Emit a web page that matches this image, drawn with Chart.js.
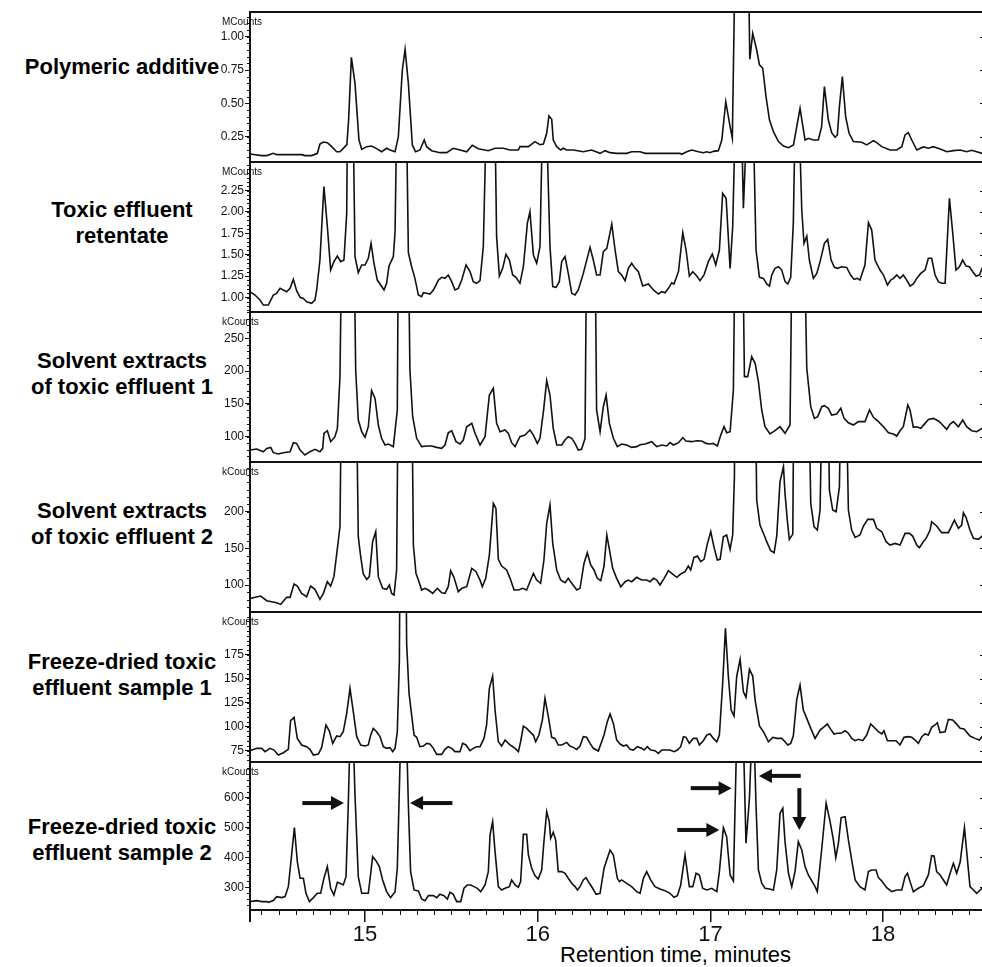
<!DOCTYPE html>
<html lang="en">
<head>
<meta charset="utf-8">
<title>Chromatograms</title>
<script src="https://cdn.jsdelivr.net/npm/chart.js@4.4.1/dist/chart.umd.min.js"></script>
<style>
  html, body { margin: 0; padding: 0; background: #fff; overflow: hidden; }
  body { position: relative; width: 982px; height: 967px; font-family: "Liberation Sans", Arial, sans-serif; color: #000; }
  .panel { position: absolute; left: 190px; width: 795px; }
  .name { position: absolute; left: 0; width: 244px; text-align: center; font-weight: bold; font-size: 22px; line-height: 26px; white-space: nowrap; }
  #xTitle { position: absolute; top: 943px; left: 560px; font-size: 22px; line-height: 24px; white-space: nowrap; }
</style>
</head>
<body>
<div id="xTitle">Retention time, minutes</div>
<script>
const INK = '#111';
const FONT = '"Liberation Sans", Arial, sans-serif';
const X_MIN = 14.334, X_MAX = 18.59;
const PAD = 6;

const timeTicks = [15, 16, 17, 18];

// Polymeric additive (MCounts)
const additiveTime = [
  14.28, 14.334, 14.402, 14.431, 14.469, 14.488, 14.633, 14.652, 14.691, 14.724,
  14.739, 14.759, 14.782, 14.807, 14.836, 14.855, 14.884, 14.895, 14.905, 14.921,
  14.942, 14.965, 14.981, 15.010, 15.038, 15.067, 15.096, 15.125, 15.145, 15.174,
  15.193, 15.216, 15.232, 15.251, 15.274, 15.293, 15.318, 15.343, 15.357, 15.386,
  15.434, 15.473, 15.511, 15.550, 15.589, 15.621, 15.656, 15.714, 15.753, 15.801,
  15.840, 15.888, 15.897, 15.946, 15.984, 16.013, 16.033, 16.052, 16.065, 16.081,
  16.090, 16.110, 16.133, 16.148, 16.168, 16.206, 16.264, 16.312, 16.361, 16.390,
  16.419, 16.457, 16.515, 16.544, 16.593, 16.622, 16.824, 16.834, 16.863, 16.892,
  16.930, 16.959, 16.979, 16.998, 17.017, 17.046, 17.066, 17.089, 17.114, 17.127,
  17.143, 17.220, 17.228, 17.245, 17.268, 17.284, 17.303, 17.322, 17.342, 17.365,
  17.394, 17.423, 17.452, 17.481, 17.519, 17.548, 17.567, 17.596, 17.625, 17.644,
  17.660, 17.683, 17.702, 17.722, 17.735, 17.747, 17.764, 17.783, 17.803, 17.828,
  17.876, 17.905, 17.944, 17.963, 17.992, 18.040, 18.079, 18.108, 18.127, 18.146,
  18.166, 18.195, 18.233, 18.262, 18.291, 18.330, 18.369, 18.407, 18.446, 18.484,
  18.513, 18.542, 18.573, 18.60
];
const additiveCounts = [
  0.12, 0.12, 0.108, 0.108, 0.125, 0.115, 0.115, 0.108, 0.108, 0.125,
  0.195, 0.21, 0.205, 0.175, 0.137, 0.137, 0.175, 0.19, 0.375, 0.845,
  0.65, 0.225, 0.155, 0.175, 0.18, 0.16, 0.137, 0.163, 0.15, 0.137,
  0.25, 0.75, 0.905, 0.65, 0.188, 0.137, 0.15, 0.225, 0.175, 0.145,
  0.13, 0.13, 0.163, 0.15, 0.137, 0.185, 0.16, 0.145, 0.163, 0.163,
  0.15, 0.15, 0.175, 0.175, 0.213, 0.19, 0.195, 0.275, 0.405, 0.38,
  0.225, 0.175, 0.15, 0.163, 0.15, 0.15, 0.137, 0.15, 0.125, 0.145,
  0.13, 0.125, 0.125, 0.137, 0.137, 0.125, 0.125, 0.118, 0.137, 0.15,
  0.137, 0.13, 0.137, 0.13, 0.14, 0.145, 0.225, 0.512, 0.325, 0.238,
  1.6, 1.6, 0.83, 1.025, 0.90, 0.788, 0.763, 0.55, 0.375, 0.287,
  0.213, 0.18, 0.167, 0.188, 0.463, 0.225, 0.238, 0.225, 0.225, 0.325,
  0.625, 0.375, 0.28, 0.245, 0.263, 0.475, 0.70, 0.40, 0.275, 0.213,
  0.208, 0.188, 0.22, 0.205, 0.175, 0.15, 0.15, 0.175, 0.263, 0.28,
  0.225, 0.15, 0.173, 0.163, 0.175, 0.158, 0.137, 0.145, 0.15, 0.137,
  0.148, 0.137, 0.125, 0.125
];
const additiveTicks = [0.25, 0.5, 0.75, 1.0];

// Toxic effluent retentate (MCounts)
const retentateTime = [
  14.28, 14.334, 14.363, 14.392, 14.411, 14.440, 14.469, 14.488, 14.508, 14.546,
  14.566, 14.585, 14.604, 14.624, 14.643, 14.662, 14.691, 14.710, 14.720, 14.739,
  14.762, 14.782, 14.801, 14.820, 14.840, 14.859, 14.878, 14.894, 14.898, 14.932,
  14.942, 14.961, 14.981, 15.000, 15.019, 15.035, 15.052, 15.071, 15.091, 15.110,
  15.125, 15.139, 15.164, 15.174, 15.183, 15.241, 15.251, 15.270, 15.289, 15.309,
  15.328, 15.338, 15.357, 15.376, 15.396, 15.425, 15.444, 15.463, 15.482, 15.502,
  15.521, 15.540, 15.560, 15.585, 15.608, 15.627, 15.646, 15.666, 15.685, 15.701,
  15.753, 15.762, 15.778, 15.797, 15.816, 15.836, 15.855, 15.874, 15.897, 15.917,
  15.940, 15.955, 15.975, 15.994, 16.013, 16.027, 16.052, 16.071, 16.087, 16.106,
  16.125, 16.139, 16.158, 16.177, 16.197, 16.216, 16.235, 16.264, 16.303, 16.322,
  16.341, 16.361, 16.380, 16.400, 16.429, 16.448, 16.467, 16.486, 16.506, 16.525,
  16.544, 16.564, 16.583, 16.608, 16.641, 16.670, 16.699, 16.718, 16.737, 16.757,
  16.776, 16.789, 16.815, 16.840, 16.859, 16.878, 16.898, 16.921, 16.940, 16.963,
  16.988, 17.011, 17.031, 17.052, 17.071, 17.091, 17.114, 17.129, 17.143, 17.181,
  17.191, 17.210, 17.249, 17.264, 17.284, 17.307, 17.326, 17.342, 17.355, 17.374,
  17.394, 17.413, 17.432, 17.448, 17.465, 17.480, 17.490, 17.515, 17.529, 17.542,
  17.558, 17.573, 17.596, 17.616, 17.635, 17.660, 17.679, 17.699, 17.718, 17.737,
  17.760, 17.789, 17.812, 17.832, 17.851, 17.866, 17.895, 17.915, 17.934, 17.953,
  17.982, 18.002, 18.025, 18.044, 18.060, 18.079, 18.098, 18.117, 18.137, 18.156,
  18.175, 18.195, 18.218, 18.243, 18.262, 18.281, 18.301, 18.320, 18.339, 18.359,
  18.384, 18.403, 18.422, 18.442, 18.461, 18.480, 18.500, 18.519, 18.538, 18.558,
  18.573, 18.60
];
const retentateCounts = [
  1.068, 1.068, 1.029, 0.971, 0.912, 0.912, 1.029, 1.049, 1.107, 1.068,
  1.107, 1.212, 1.08, 1.002, 0.99, 0.951, 0.932, 0.971, 1.088, 1.438,
  2.295, 1.827, 1.321, 1.419, 1.485, 1.419, 1.438, 1.983, 3.0, 3.0,
  1.477, 1.29, 1.38, 1.38, 1.458, 1.633, 1.40, 1.204, 1.146, 1.088,
  1.166, 1.368, 1.477, 1.769, 3.0, 3.0, 1.524, 1.36, 1.224, 1.029,
  1.01, 1.056, 1.049, 1.041, 1.088, 1.204, 1.236, 1.224, 1.263, 1.185,
  1.088, 1.107, 1.204, 1.38, 1.302, 1.185, 1.166, 1.197, 1.594, 3.0,
  3.0, 1.711, 1.251, 1.341, 1.504, 1.438, 1.263, 1.236, 1.166, 1.36,
  1.866, 2.003, 1.497, 1.40, 1.594, 3.0, 3.0, 1.594, 1.127, 1.119,
  1.185, 1.419, 1.477, 1.282, 1.049, 1.029, 1.088, 1.282, 1.586, 1.438,
  1.263, 1.263, 1.535, 1.574, 1.858, 1.555, 1.302, 1.263, 1.197, 1.341,
  1.40, 1.341, 1.302, 1.134, 1.158, 1.088, 1.041, 1.068, 1.056, 1.107,
  1.173, 1.158, 1.302, 1.757, 1.555, 1.251, 1.302, 1.251, 1.197, 1.263,
  1.419, 1.508, 1.38, 1.555, 2.217, 2.158, 1.341, 1.827, 3.0, 3.0,
  2.042, 3.0, 3.0, 1.555, 1.236, 1.224, 1.158, 1.134, 1.263, 1.341,
  1.36, 1.321, 1.188, 1.158, 1.236, 1.866, 3.0, 3.0, 2.022, 1.633,
  1.718, 1.438, 1.224, 1.282, 1.419, 1.633, 1.68, 1.438, 1.352, 1.341,
  1.36, 1.352, 1.263, 1.212, 1.224, 1.204, 1.38, 1.874, 1.788, 1.438,
  1.321, 1.263, 1.146, 1.204, 1.224, 1.263, 1.224, 1.263, 1.204, 1.134,
  1.158, 1.224, 1.282, 1.321, 1.458, 1.458, 1.263, 1.185, 1.166, 1.166,
  2.158, 1.757, 1.321, 1.36, 1.438, 1.368, 1.36, 1.302, 1.251, 1.263,
  1.341, 1.36
];
const retentateTicks = [1.0, 1.25, 1.5, 1.75, 2.0, 2.25];

// Solvent extracts of toxic effluent 1 (kCounts)
const solvent1Time = [
  14.28, 14.334, 14.373, 14.411, 14.431, 14.454, 14.469, 14.498, 14.527, 14.566,
  14.585, 14.604, 14.624, 14.652, 14.681, 14.710, 14.739, 14.755, 14.762, 14.782,
  14.801, 14.826, 14.840, 14.855, 14.865, 14.936, 14.946, 14.961, 14.981, 15.000,
  15.019, 15.038, 15.058, 15.077, 15.096, 15.116, 15.135, 15.164, 15.187, 15.193,
  15.251, 15.260, 15.276, 15.299, 15.328, 15.357, 15.386, 15.415, 15.444, 15.463,
  15.482, 15.502, 15.527, 15.550, 15.569, 15.589, 15.618, 15.637, 15.666, 15.695,
  15.720, 15.743, 15.762, 15.782, 15.811, 15.830, 15.849, 15.869, 15.897, 15.926,
  15.955, 15.975, 15.998, 16.013, 16.033, 16.052, 16.071, 16.090, 16.110, 16.139,
  16.158, 16.177, 16.197, 16.216, 16.235, 16.254, 16.274, 16.283, 16.332, 16.341,
  16.361, 16.380, 16.396, 16.415, 16.438, 16.461, 16.486, 16.515, 16.544, 16.573,
  16.593, 16.622, 16.660, 16.689, 16.718, 16.747, 16.766, 16.786, 16.815, 16.840,
  16.859, 16.892, 16.921, 16.950, 16.975, 16.998, 17.017, 17.040, 17.060, 17.079,
  17.094, 17.114, 17.133, 17.143, 17.187, 17.197, 17.216, 17.239, 17.259, 17.278,
  17.297, 17.316, 17.345, 17.374, 17.403, 17.432, 17.461, 17.473, 17.544, 17.558,
  17.581, 17.602, 17.621, 17.645, 17.660, 17.683, 17.702, 17.731, 17.755, 17.774,
  17.799, 17.828, 17.857, 17.895, 17.921, 17.944, 17.973, 18.002, 18.031, 18.060,
  18.079, 18.098, 18.117, 18.143, 18.156, 18.175, 18.195, 18.218, 18.243, 18.262,
  18.291, 18.320, 18.339, 18.368, 18.388, 18.407, 18.436, 18.461, 18.484, 18.513,
  18.542, 18.573, 18.60
];
const solvent1Counts = [
  79.7, 79.7, 81.2, 77.1, 82.2, 83.7, 75.6, 73.6, 75.6, 77.1,
  90.9, 89.8, 79.7, 72.1, 77.1, 80.7, 77.1, 82.2, 105.1, 109.1,
  92.4, 100, 112.7, 191.5, 400, 400, 201.6, 125.4, 107.6, 99,
  115.2, 170.1, 158.4, 117.8, 97.5, 87.3, 88.8, 84.8, 140.7, 400,
  400, 201.6, 130.5, 97.5, 84.8, 85.8, 85.8, 83.7, 82.2, 87.3,
  106.1, 109.1, 92.4, 88.8, 94.9, 115.2, 120.3, 105.1, 87.3, 100,
  163.5, 173.7, 120.3, 107.6, 110.2, 105.1, 90.9, 84.8, 100, 102.5,
  110.2, 102.5, 89.8, 97.5, 138.1, 185.4, 163.5, 112.7, 87.3, 87.3,
  94.9, 100, 97.5, 89.8, 79.7, 80.7, 97.5, 400, 400, 140.7,
  107.6, 145.7, 163.5, 120.3, 97.5, 84.8, 88.8, 87.3, 83.7, 84.8,
  87.8, 88.8, 92.4, 84.8, 87.3, 85.8, 90.9, 87.3, 90.9, 98.5,
  93.4, 92.4, 93.9, 93.4, 89.8, 88.8, 89.8, 85.8, 102.5, 115.2,
  106.1, 107.6, 171.1, 400, 400, 191.5, 191.5, 222, 211.8, 183.8,
  140.7, 115.2, 104.1, 109.1, 115.2, 105.1, 117.8, 400, 400, 204.2,
  145.7, 127.9, 130.5, 145.7, 147.3, 143.2, 133, 134.6, 143.2, 127.9,
  121.3, 117.8, 122.9, 122.9, 140.7, 129.5, 122.9, 115.2, 106.1, 104.1,
  101, 109.1, 115.2, 148.3, 140.7, 114.2, 115.2, 112.7, 120.3, 126.4,
  127.9, 123.9, 119.3, 111.2, 119.3, 122.9, 115.2, 125.4, 115.2, 109.1,
  107.6, 112.7, 112.7
];
const solvent1Ticks = [100, 150, 200, 250];

// Solvent extracts of toxic effluent 2 (kCounts)
const solvent2Time = [
  14.28, 14.334, 14.363, 14.396, 14.431, 14.459, 14.488, 14.512, 14.546, 14.566,
  14.589, 14.608, 14.633, 14.662, 14.685, 14.710, 14.739, 14.759, 14.782, 14.801,
  14.820, 14.840, 14.855, 14.865, 14.948, 14.961, 14.975, 14.990, 15.010, 15.025,
  15.044, 15.062, 15.077, 15.102, 15.125, 15.141, 15.154, 15.168, 15.183, 15.193,
  15.270, 15.280, 15.295, 15.309, 15.328, 15.347, 15.367, 15.392, 15.419, 15.444,
  15.463, 15.482, 15.496, 15.515, 15.540, 15.560, 15.589, 15.618, 15.643, 15.666,
  15.679, 15.699, 15.720, 15.743, 15.758, 15.772, 15.791, 15.820, 15.840, 15.863,
  15.888, 15.913, 15.936, 15.955, 15.975, 15.994, 16.017, 16.036, 16.052, 16.071,
  16.087, 16.110, 16.133, 16.158, 16.177, 16.197, 16.226, 16.245, 16.268, 16.287,
  16.307, 16.326, 16.345, 16.365, 16.384, 16.400, 16.419, 16.434, 16.457, 16.481,
  16.506, 16.525, 16.544, 16.573, 16.602, 16.631, 16.651, 16.670, 16.689, 16.708,
  16.732, 16.757, 16.776, 16.805, 16.828, 16.853, 16.872, 16.886, 16.905, 16.925,
  16.944, 16.963, 16.983, 17.002, 17.021, 17.040, 17.056, 17.075, 17.094, 17.114,
  17.129, 17.139, 17.143, 17.259, 17.268, 17.287, 17.311, 17.326, 17.349, 17.369,
  17.384, 17.403, 17.423, 17.432, 17.446, 17.457, 17.477, 17.484, 17.567, 17.581,
  17.600, 17.619, 17.635, 17.650, 17.679, 17.689, 17.708, 17.728, 17.747, 17.758,
  17.783, 17.799, 17.818, 17.838, 17.866, 17.886, 17.911, 17.944, 17.963, 17.992,
  18.017, 18.040, 18.069, 18.098, 18.127, 18.152, 18.171, 18.195, 18.210, 18.233,
  18.249, 18.272, 18.281, 18.310, 18.339, 18.378, 18.413, 18.436, 18.455, 18.465,
  18.480, 18.503, 18.523, 18.552, 18.573, 18.60
];
const solvent2Counts = [
  81.8, 81.8, 83.2, 85, 78.6, 77.3, 75.9, 73.6, 83.2, 83.2,
  101.4, 98.6, 88.6, 84.1, 98.6, 94.1, 80.5, 88.6, 104.5, 98.6,
  111.4, 150, 179.5, 400, 400, 165.9, 138.6, 115, 107.7, 111.4,
  159.1, 172.7, 111.4, 95.5, 94.1, 100, 88.6, 86.4, 120.5, 400,
  400, 154.5, 115.9, 106.8, 93.2, 95.5, 93.2, 88.6, 95.5, 89.5,
  88.6, 97.7, 119.5, 110.5, 90.9, 95.5, 97.7, 122.7, 118.2, 106.8,
  97.7, 109.1, 140.9, 211.4, 204.5, 135, 125.9, 120.5, 109.1, 93.2,
  93.2, 95.5, 93.2, 104.5, 115.9, 106.8, 102.3, 134.1, 184.1, 209.1,
  156.8, 120.5, 106.8, 103.2, 109.1, 102.3, 93.2, 95.5, 129.5, 144.1,
  127.3, 120.5, 109.1, 105.9, 125.9, 168.2, 143.2, 122.7, 109.1, 97.7,
  104.5, 106.8, 104.5, 110.5, 106.8, 106.8, 104.5, 109.1, 106.8, 100,
  109.1, 119.5, 115.9, 110.5, 115, 118.2, 125.9, 120.5, 137.7, 139.5,
  131.8, 135, 156.8, 172.7, 151.4, 134.1, 135, 165.9, 168.2, 148.6,
  168.2, 247.7, 400, 400, 215.9, 181.8, 168.2, 159.1, 146.8, 144.1,
  166.8, 240.9, 261.4, 225, 186.4, 162.3, 169.5, 400, 400, 211.4,
  179.5, 175, 202.3, 400, 400, 229.5, 202.3, 200, 234.1, 400,
  400, 202.3, 175, 165, 168.2, 180.5, 189.5, 189.5, 177.3, 172.7,
  159.1, 154.5, 156.8, 154.5, 170.5, 170.5, 166.8, 154.5, 150.9, 159.1,
  163.6, 175, 186.4, 180.5, 171.4, 171.4, 188.6, 177.3, 181.8, 198.6,
  192.3, 175, 163.6, 162.3, 166.8, 166.8
];
const solvent2Ticks = [100, 150, 200];

// Freeze-dried toxic effluent sample 1 (kCounts)
const freeze1Time = [
  14.28, 14.334, 14.373, 14.402, 14.421, 14.450, 14.473, 14.498, 14.527, 14.556,
  14.569, 14.589, 14.608, 14.633, 14.662, 14.681, 14.701, 14.730, 14.749, 14.774,
  14.793, 14.813, 14.836, 14.855, 14.874, 14.894, 14.913, 14.932, 14.952, 14.975,
  15.000, 15.019, 15.033, 15.048, 15.067, 15.087, 15.106, 15.125, 15.145, 15.160,
  15.174, 15.187, 15.199, 15.206, 15.232, 15.241, 15.255, 15.270, 15.284, 15.299,
  15.318, 15.338, 15.357, 15.376, 15.396, 15.415, 15.444, 15.463, 15.482, 15.502,
  15.521, 15.550, 15.565, 15.585, 15.608, 15.627, 15.646, 15.666, 15.689, 15.704,
  15.720, 15.739, 15.753, 15.772, 15.791, 15.811, 15.830, 15.849, 15.869, 15.888,
  15.901, 15.917, 15.936, 15.959, 15.975, 15.988, 16.007, 16.027, 16.042, 16.061,
  16.081, 16.100, 16.119, 16.139, 16.168, 16.187, 16.206, 16.226, 16.245, 16.264,
  16.283, 16.303, 16.322, 16.351, 16.384, 16.403, 16.419, 16.438, 16.457, 16.477,
  16.496, 16.515, 16.535, 16.554, 16.577, 16.602, 16.616, 16.635, 16.654, 16.679,
  16.699, 16.718, 16.747, 16.766, 16.789, 16.809, 16.828, 16.844, 16.859, 16.878,
  16.901, 16.921, 16.936, 16.959, 16.979, 16.998, 17.017, 17.037, 17.052, 17.071,
  17.087, 17.104, 17.120, 17.137, 17.152, 17.172, 17.191, 17.206, 17.226, 17.245,
  17.259, 17.284, 17.307, 17.336, 17.361, 17.384, 17.413, 17.432, 17.448, 17.465,
  17.480, 17.500, 17.519, 17.538, 17.558, 17.581, 17.606, 17.635, 17.654, 17.677,
  17.697, 17.716, 17.735, 17.755, 17.780, 17.799, 17.818, 17.838, 17.857, 17.882,
  17.905, 17.928, 17.948, 17.973, 17.992, 18.005, 18.025, 18.050, 18.075, 18.098,
  18.121, 18.146, 18.166, 18.185, 18.204, 18.224, 18.243, 18.262, 18.281, 18.301,
  18.314, 18.330, 18.359, 18.378, 18.403, 18.422, 18.446, 18.469, 18.503, 18.532,
  18.557, 18.573, 18.60
];
const freeze1Counts = [
  74.8, 74.8, 77.3, 77.3, 73.8, 77.3, 75.5, 70.3, 72.7, 76.2,
  106.2, 109.7, 87.7, 80.8, 79, 76.2, 70.3, 71.3, 78.3, 101.7,
  95.7, 82.5, 90.2, 89.5, 94.7, 113.9, 140, 115.6, 89.5, 80.8,
  79.7, 80.8, 91.2, 98.2, 94.7, 89.5, 79, 77.3, 78, 73.8,
  77.3, 94.7, 169.7, 400, 400, 187.1, 134.8, 112.1, 91.2, 88.8,
  79, 79.7, 82.5, 81.8, 77.3, 71, 71, 76.2, 79, 77.3,
  73.8, 73.8, 82.5, 80.8, 74.8, 77.3, 79, 79, 87.7, 101.7,
  140, 152.9, 117.4, 84.2, 79.7, 86, 82.5, 79.7, 77.3, 73.8,
  84.2, 100.6, 98.2, 93.7, 91.2, 84.2, 91.2, 106.9, 129.6, 111.1,
  88.8, 87.7, 80.8, 80.8, 83.5, 79.7, 78.3, 76.2, 79.7, 89.5,
  88.8, 82.5, 77.3, 74.5, 91.2, 105.2, 113.2, 103.4, 86, 81.8,
  79.7, 80.8, 76.2, 75.5, 79, 77.3, 75.5, 79, 75.5, 74.8,
  72, 75.5, 75.5, 75.5, 73.8, 75.5, 79, 89.5, 88.8, 82.5,
  87.7, 87.7, 80.8, 85.3, 91.2, 92.3, 87.7, 84.2, 91.2, 145.3,
  202.8, 152.2, 117.4, 111.1, 152.2, 170.4, 136.5, 130.6, 160, 152.9,
  127.8, 100.6, 94.7, 84.2, 88.8, 87.7, 87.7, 84.2, 80.8, 82.5,
  90.2, 128.5, 143.5, 117.4, 108.6, 98.2, 87.7, 96.4, 99.2, 102.7,
  97.1, 92.3, 93, 93, 95.7, 93, 87.7, 85.3, 86.7, 85.3,
  91.2, 102.7, 99.2, 94.7, 92.3, 95.7, 85.3, 85.3, 85.3, 80.8,
  88.8, 89.5, 88.8, 86, 82.5, 89.5, 92.3, 91.2, 99.2, 101.7,
  104.1, 93.7, 94.7, 107.6, 107, 103.4, 98.2, 97.5, 90.2, 87.7,
  86, 89.5, 89.5
];
const freeze1Ticks = [75, 100, 125, 150, 175];

// Freeze-dried toxic effluent sample 2 (kCounts)
const freeze2Time = [
  14.28, 14.334, 14.373, 14.402, 14.431, 14.440, 14.469, 14.488, 14.517, 14.537,
  14.556, 14.575, 14.591, 14.608, 14.624, 14.643, 14.658, 14.678, 14.701, 14.724,
  14.743, 14.762, 14.782, 14.801, 14.820, 14.840, 14.855, 14.874, 14.890, 14.903,
  14.913, 14.932, 14.942, 14.961, 14.981, 15.000, 15.019, 15.033, 15.044, 15.064,
  15.083, 15.102, 15.125, 15.148, 15.174, 15.187, 15.199, 15.206, 15.241, 15.251,
  15.264, 15.284, 15.309, 15.328, 15.347, 15.367, 15.396, 15.415, 15.434, 15.457,
  15.477, 15.492, 15.511, 15.531, 15.554, 15.573, 15.593, 15.612, 15.631, 15.650,
  15.670, 15.695, 15.714, 15.724, 15.739, 15.753, 15.772, 15.791, 15.811, 15.836,
  15.849, 15.869, 15.888, 15.901, 15.917, 15.936, 15.946, 15.965, 15.984, 16.003,
  16.023, 16.036, 16.052, 16.067, 16.075, 16.090, 16.104, 16.119, 16.139, 16.158,
  16.177, 16.197, 16.216, 16.230, 16.245, 16.264, 16.280, 16.299, 16.318, 16.338,
  16.361, 16.384, 16.403, 16.419, 16.438, 16.461, 16.473, 16.486, 16.515, 16.544,
  16.573, 16.593, 16.612, 16.631, 16.654, 16.679, 16.708, 16.737, 16.766, 16.789,
  16.809, 16.828, 16.853, 16.878, 16.898, 16.917, 16.936, 16.955, 16.979, 17.008,
  17.037, 17.052, 17.075, 17.094, 17.114, 17.133, 17.152, 17.191, 17.206, 17.226,
  17.239, 17.253, 17.264, 17.278, 17.297, 17.316, 17.342, 17.365, 17.384, 17.403,
  17.419, 17.432, 17.452, 17.471, 17.490, 17.509, 17.529, 17.548, 17.567, 17.587,
  17.606, 17.619, 17.645, 17.670, 17.693, 17.712, 17.726, 17.741, 17.757, 17.780,
  17.799, 17.818, 17.838, 17.866, 17.895, 17.915, 17.934, 17.959, 17.973, 17.992,
  18.021, 18.050, 18.079, 18.108, 18.127, 18.141, 18.156, 18.175, 18.204, 18.233,
  18.262, 18.281, 18.295, 18.310, 18.330, 18.349, 18.368, 18.388, 18.407, 18.426,
  18.446, 18.471, 18.484, 18.503, 18.523, 18.542, 18.573, 18.60
];
const freeze2Counts = [
  252, 252, 255.4, 252, 252, 249.8, 255.4, 268.8, 265.4, 268.8,
  302.2, 408.3, 499.8, 385.9, 330.1, 330.1, 279.9, 252, 265.4, 279.9,
  279.9, 330.1, 369.2, 296.7, 274.3, 316.7, 313.4, 307.8, 335.7, 575.7,
  800, 800, 609.2, 335.7, 279.9, 279.9, 279.9, 346.9, 402.7, 388.2,
  369.2, 324.6, 285.5, 265.4, 285.5, 363.6, 631.5, 800, 800, 575.7,
  352.5, 291.1, 287.7, 260.9, 255.4, 272.1, 272.1, 265.4, 276.6, 272.1,
  260.9, 283.3, 276.6, 252, 252, 296.7, 307.8, 307.8, 302.2, 296.7,
  285.5, 307.8, 352.5, 475.2, 519.9, 419.4, 302.2, 291.1, 296.7, 302.2,
  324.6, 307.8, 300, 319, 477.5, 477.5, 408.3, 363.6, 339.1, 327.9,
  358, 452.9, 553.3, 519.9, 464.1, 484.2, 458.5, 352.5, 352.5, 346.9,
  330.1, 313.4, 302.2, 291.1, 302.2, 324.6, 332.4, 313.4, 296.7, 276.6,
  279.9, 363.6, 397.1, 425, 408.3, 330.1, 319, 324.6, 313.4, 302.2,
  285.5, 279.9, 330.1, 352.5, 324.6, 302.2, 294.4, 288.8, 279.9, 266.5,
  272.1, 307.8, 408.3, 302.2, 302.2, 346.9, 341.3, 296.7, 291.1, 296.7,
  285.5, 352.5, 499.8, 469.6, 341.3, 321.2, 800, 800, 447.3, 598,
  800, 800, 575.7, 358, 313.4, 296.7, 294.4, 291.1, 358, 547.8,
  564.5, 452.9, 346.9, 302.2, 352.5, 452.9, 425, 369.2, 341.3, 321.2,
  302.2, 285.5, 430.6, 581.3, 519.9, 458.5, 399.3, 447.3, 533.3, 536.6,
  458.5, 391.5, 324.6, 302.2, 291.1, 352.5, 358, 358, 332.4, 321.2,
  298.9, 285.5, 291.1, 291.1, 335.7, 346.9, 319, 285.5, 296.7, 305.6,
  341.3, 406, 404.9, 352.5, 341.3, 324.6, 307.8, 346.9, 380.4, 346.9,
  383.7, 499.8, 419.4, 302.2, 291.1, 279.9, 296.7, 296.7
];
const freeze2Ticks = [300, 400, 500, 600];

// arrows marking the peaks of interest in sample 2, [minutes, kCounts]
const arrowTails = [[14.637, 582], [15.506, 582], [16.886, 632], [16.808, 492], [17.523, 673], [17.515, 632]];
const arrowHeads = [[14.878, 582], [15.261, 582], [17.123, 632], [17.052, 492], [17.281, 673], [17.515, 492]];

const panels = [
  { name: ['Polymeric additive'], unit: 'MCounts', time: additiveTime, counts: additiveCounts, ticks: additiveTicks, minor: 0.05, min: 0.06, max: 1.185, digits: 2 },
  { name: ['Toxic effluent', 'retentate'], unit: 'MCounts', time: retentateTime, counts: retentateCounts, ticks: retentateTicks, minor: 0.05, min: 0.831, max: 2.583, digits: 2 },
  { name: ['Solvent extracts', 'of toxic effluent 1'], unit: 'kCounts', time: solvent1Time, counts: solvent1Counts, ticks: solvent1Ticks, minor: 10, min: 61.4, max: 290.1, digits: 0 },
  { name: ['Solvent extracts', 'of toxic effluent 2'], unit: 'kCounts', time: solvent2Time, counts: solvent2Counts, ticks: solvent2Ticks, minor: 10, min: 63.2, max: 267.8, digits: 0 },
  { name: ['Freeze-dried toxic', 'effluent sample 1'], unit: 'kCounts', time: freeze1Time, counts: freeze1Counts, ticks: freeze1Ticks, minor: 5, min: 63, max: 219.9, digits: 0 },
  { name: ['Freeze-dried toxic', 'effluent sample 2'], unit: 'kCounts', time: freeze2Time, counts: freeze2Counts, ticks: freeze2Ticks, minor: 20, min: 224, max: 719.5, digits: 0 }
];

// page position of each plot band and of its bold name
const bands = [
  { top: 12, height: 150, nameTop: 54 },
  { top: 162, height: 150, nameTop: 197 },
  { top: 312, height: 150, nameTop: 348 },
  { top: 462, height: 150, nameTop: 498 },
  { top: 612, height: 150, nameTop: 649 },
  { top: 762, height: 148, nameTop: 814 }
];
const X_AXIS_HEIGHT = 967 - 910;

function drawArrow(ctx, x0, y0, x1, y1) {
  const ang = Math.atan2(y1 - y0, x1 - x0);
  const len = Math.hypot(x1 - x0, y1 - y0);
  const head = 13, half = 7;
  ctx.save();
  ctx.translate(x0, y0);
  ctx.rotate(ang);
  ctx.fillStyle = INK;
  ctx.fillRect(0, -2, len - head + 1, 4);
  ctx.beginPath();
  ctx.moveTo(len, 0);
  ctx.lineTo(len - head, -half);
  ctx.lineTo(len - head, half);
  ctx.closePath();
  ctx.fill();
  ctx.restore();
}

panels.forEach((p, i) => {
  const band = bands[i];
  const last = i === panels.length - 1;

  const name = document.createElement('div');
  name.className = 'name';
  name.style.top = band.nameTop + 'px';
  name.innerHTML = p.name.join('<br>');
  document.body.appendChild(name);

  const box = document.createElement('div');
  box.className = 'panel';
  box.style.top = (band.top - PAD) + 'px';
  box.style.height = (band.height + PAD + (last ? X_AXIS_HEIGHT : 0)) + 'px';
  const canvas = document.createElement('canvas');
  box.appendChild(canvas);
  document.body.appendChild(box);

  const frame = {
    id: 'frame' + i,
    afterDatasetsDraw(chart) {
      const { ctx, chartArea: a, scales } = chart;
      const y = scales.y;
      ctx.save();
      ctx.strokeStyle = INK;
      ctx.lineWidth = 2;
      ctx.beginPath();
      ctx.moveTo(a.left - 1, a.top);
      ctx.lineTo(a.right, a.top);
      ctx.stroke();

      ctx.lineWidth = 1;
      for (let k = Math.ceil(p.min / p.minor); k * p.minor <= p.max; k++) {
        const py = Math.round(y.getPixelForValue(k * p.minor)) + 0.5;
        ctx.beginPath();
        ctx.moveTo(a.left - 3, py);
        ctx.lineTo(a.left, py);
        ctx.stroke();
      }
      p.ticks.forEach(v => {
        const py = Math.round(y.getPixelForValue(v)) + 0.5;
        ctx.beginPath();
        ctx.moveTo(a.right - 5, py);
        ctx.lineTo(a.right, py);
        ctx.stroke();
      });

      ctx.fillStyle = INK;
      ctx.font = '10px ' + FONT;
      ctx.textBaseline = 'middle';
      ctx.fillText(p.unit, a.left - 28, a.top + 10);

      if (last) {
        const x = scales.x;
        for (let k = Math.ceil(X_MIN * 10); k / 10 <= X_MAX; k++) {
          if (k % 10 === 0) continue;
          const px = Math.round(x.getPixelForValue(k / 10)) + 0.5;
          ctx.beginPath();
          ctx.moveTo(px, a.bottom);
          ctx.lineTo(px, a.bottom + 5);
          ctx.stroke();
        }
        ctx.lineWidth = 2;
        ctx.beginPath();
        ctx.moveTo(a.left, a.bottom);
        ctx.lineTo(a.left, a.bottom + 12);
        ctx.stroke();
        arrowTails.forEach((t, k) => {
          const h = arrowHeads[k];
          drawArrow(ctx, x.getPixelForValue(t[0]), y.getPixelForValue(t[1]),
                         x.getPixelForValue(h[0]), y.getPixelForValue(h[1]));
        });
      }
      ctx.restore();
    }
  };

  const xScale = {
    type: 'linear',
    min: X_MIN,
    max: X_MAX,
    display: last
  };
  if (last) {
    Object.assign(xScale, {
      afterBuildTicks: s => { s.ticks = timeTicks.map(v => ({ value: v })); },
      afterFit: s => { s.height = X_AXIS_HEIGHT; s.paddingLeft = 0; s.paddingRight = 0; },
      ticks: { color: INK, font: { family: FONT, size: 22 }, padding: 0, maxRotation: 0, autoSkip: false },
      grid: { drawOnChartArea: false, tickLength: 12, color: INK, lineWidth: 1.5 },
      border: { color: INK, width: 2 }
    });
  }

  new Chart(canvas, {
    type: 'line',
    data: {
      datasets: [{
        data: p.time.map((t, k) => ({ x: t, y: p.counts[k] })),
        borderColor: INK,
        borderWidth: 1.6,
        pointRadius: 0,
        tension: 0,
        fill: false,
        clip: 0
      }]
    },
    options: {
      responsive: true,
      maintainAspectRatio: false,
      animation: false,
      events: [],
      layout: { padding: { top: PAD, left: 0, right: 0, bottom: 0 } },
      plugins: { legend: { display: false }, tooltip: { enabled: false } },
      scales: {
        x: xScale,
        y: {
          min: p.min,
          max: p.max,
          afterBuildTicks: s => { s.ticks = p.ticks.map(v => ({ value: v })); },
          afterFit: s => { s.width = 60; s.paddingTop = 0; s.paddingBottom = 0; },
          ticks: {
            color: INK,
            font: { family: FONT, size: 12 },
            padding: 1,
            autoSkip: false,
            callback: v => p.digits ? v.toFixed(p.digits) : String(v)
          },
          grid: { drawOnChartArea: false, tickLength: 5, color: INK, lineWidth: 1 },
          border: { color: INK, width: 2 }
        }
      }
    },
    plugins: [frame]
  });
});
</script>
</body>
</html>
